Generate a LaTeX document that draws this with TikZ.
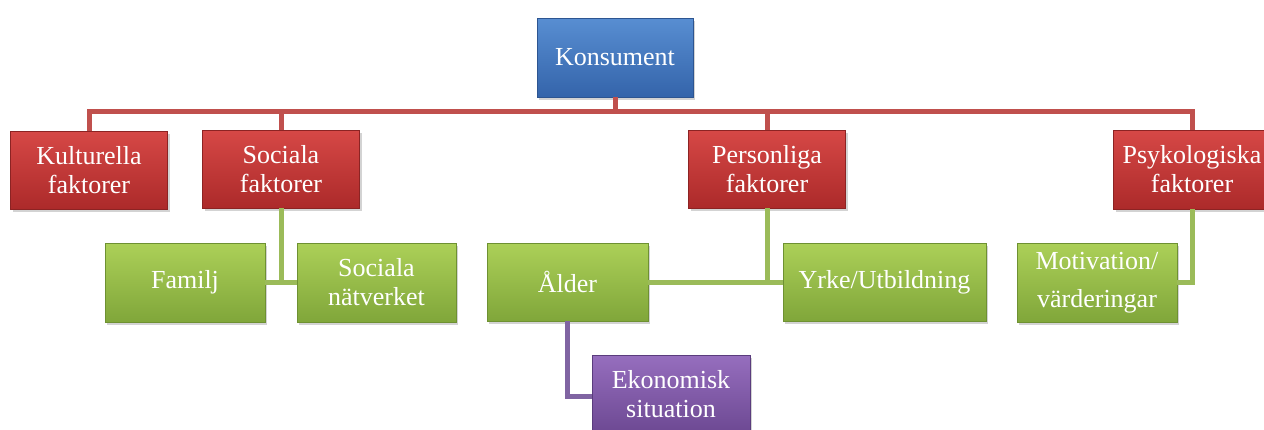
\documentclass[tikz,border=0pt]{standalone}
\usepackage{fontspec}
\setmainfont{Liberation Serif}
\usetikzlibrary{shadows}
\definecolor{rline}{HTML}{C0504D}
\definecolor{gline}{HTML}{9BBB59}
\definecolor{pline}{HTML}{8064A2}
\tikzset{
  box/.style={rectangle, align=center, text=white, inner sep=2pt,
    font=\fontsize{26}{29}\selectfont, line width=0.6pt,
    drop shadow={opacity=0.35, shadow xshift=2pt, shadow yshift=-3pt}},
  bluebox/.style={box, top color={rgb,255:red,88;green,142;blue,210}, bottom color={rgb,255:red,52;green,100;blue,170}, draw={rgb,255:red,45;green,85;blue,145}},
  redbox/.style={box, top color={rgb,255:red,214;green,72;blue,70}, bottom color={rgb,255:red,172;green,42;blue,42}, draw={rgb,255:red,140;green,35;blue,35}},
  greenbox/.style={box, top color={rgb,255:red,172;green,208;blue,88}, bottom color={rgb,255:red,128;green,166;blue,58}, draw={rgb,255:red,110;green,145;blue,50}},
  purplebox/.style={box, top color={rgb,255:red,150;green,110;blue,190}, bottom color={rgb,255:red,108;green,72;blue,146}, draw={rgb,255:red,90;green,60;blue,125}},
  redcon/.style={draw=rline, line width=5pt},
  greencon/.style={draw=gline, line width=5pt},
  purplecon/.style={draw=pline, line width=5pt},
}
\begin{document}
\begin{tikzpicture}[x=1pt, y=-1pt]
\useasboundingbox (0,0) rectangle (1264,429);
\clip (0,0) rectangle (1264,429);
\coordinate (bus) at (615,111);
\node[bluebox, minimum width=156pt, minimum height=79pt] (kons) at (615,57.5) {Konsument};
\node[redbox, minimum width=157pt, minimum height=78pt] (kult) at (89,170) {Kulturella\\faktorer};
\node[redbox, minimum width=157pt, minimum height=78pt] (soc) at (281,169) {Sociala\\faktorer};
\node[redbox, minimum width=157pt, minimum height=78pt] (pers) at (767,169) {Personliga\\faktorer};
\node[redbox, minimum width=157pt, minimum height=79pt] (psyk) at (1192,169.5) {Psykologiska\\faktorer};
\node[greenbox, minimum width=160pt, minimum height=79pt] (fam) at (185,282.5) {Familj};
\node[greenbox, minimum width=159pt, minimum height=79pt] (socn) at (376.5,282.5) {Sociala\\nätverket};
\node[greenbox, minimum width=161pt, minimum height=78pt] (alder) at (567.5,282) {Ålder};
\node[greenbox, minimum width=203pt, minimum height=78pt] (yrke) at (884.5,282) {Yrke/Utbildning};
\node[greenbox, minimum width=160pt, minimum height=79pt] (motiv) at (1097,282.5) {Motivation/\\[9pt]värderingar};
\node[purplebox, minimum width=158pt, minimum height=79pt] (ekon) at (671,394.5) {Ekonomisk\\situation};
% red connectors
\draw[redcon] (kons.south) -- (bus);
\draw[redcon] (kult.north) -- (kult.north |- bus) -- (psyk.north |- bus) -- (psyk.north);
\draw[redcon] (soc.north) -- (soc.north |- bus);
\draw[redcon] (pers.north) -- (pers.north |- bus);
% green connectors
\draw[greencon] (soc.south) |- (fam.east);
\draw[greencon] (soc.south) |- (socn.west);
\draw[greencon] (pers.south) |- (alder.east);
\draw[greencon] (pers.south) |- (yrke.west);
\draw[greencon] (psyk.south) |- (motiv.east);
% purple connector
\draw[purplecon] (alder.south) |- ([yshift=-2pt]ekon.west);
\end{tikzpicture}
\end{document}
